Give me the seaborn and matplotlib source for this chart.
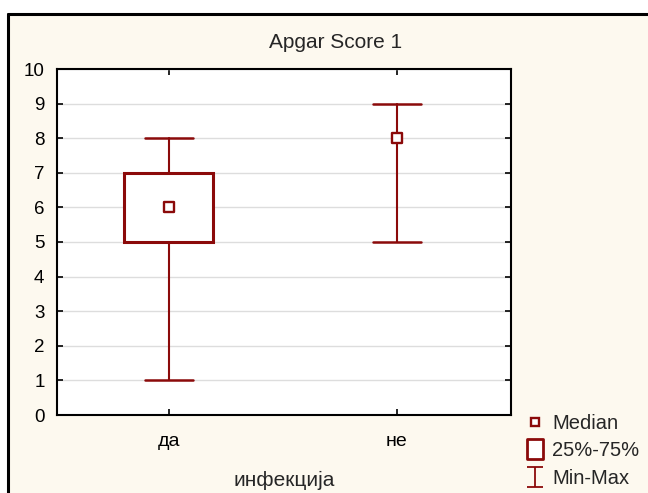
import matplotlib
matplotlib.use('Agg')
import matplotlib.pyplot as plt
import seaborn as sns
from matplotlib.lines import Line2D
from matplotlib.path import Path
from matplotlib.patches import Rectangle

# данные (сводные статистики по группам)
groups = ['да', 'не']
medians = [6, 8]
q1 = [5, 8]
q3 = [7, 8]
mins = [1, 5]
maxs = [8, 9]

red = '#8B0A0A'
cream = '#FDF9EF'

sns.set_style('white')
plt.rcParams['font.family'] = ['Liberation Sans', 'DejaVu Sans']
plt.rcParams['font.size'] = 13

fig = plt.figure(figsize=(6.48, 4.93), dpi=100, facecolor='white')
# кремовый фон с чёрной рамкой сверху и слева
fig.add_artist(Rectangle((8 / 648, 0), 1, 1 - 14 / 493, transform=fig.transFigure,
                         facecolor=cream, edgecolor='none', zorder=-10))
fig.add_artist(Line2D([8 / 648, 1], [1 - 14 / 493] * 2, transform=fig.transFigure, color='black', lw=2.2))
fig.add_artist(Line2D([8 / 648] * 2, [0, 1 - 14 / 493], transform=fig.transFigure, color='black', lw=2.2))

ax = fig.add_axes([57 / 648, 1 - 415 / 493, 454 / 648, 346 / 493])
ax.set_facecolor('white')

stats = []
for i in range(len(groups)):
    stats.append({'med': medians[i], 'q1': q1[i], 'q3': q3[i],
                  'whislo': mins[i], 'whishi': maxs[i], 'fliers': []})
box_w = [0.39 if q3[i] > q1[i] else 0.0 for i in range(len(groups))]
ax.bxp(stats, positions=range(len(groups)), widths=box_w, capwidths=0.21,
       showfliers=False, patch_artist=True,
       boxprops=dict(facecolor='white', edgecolor=red, linewidth=2.2),
       whiskerprops=dict(color=red, linewidth=1.5),
       capprops=dict(color=red, linewidth=1.8),
       medianprops=dict(linewidth=0), manage_ticks=False)

sns.scatterplot(x=list(range(len(groups))), y=medians, marker='s', s=42,
                facecolor='white', edgecolor=red, linewidth=1.7, ax=ax, zorder=5)

ax.set_xlim(-0.49, 1.5)
ax.set_ylim(0, 10)
ax.set_yticks(range(0, 11))
ax.set_xticks(range(len(groups)))
ax.set_xticklabels(groups, fontsize=14)
ax.grid(axis='y', color='#DDDDDD', linewidth=1)
ax.set_axisbelow(True)
for s in ax.spines.values():
    s.set_color('black')
    s.set_linewidth(1.5)
ax.tick_params(direction='in', length=4, width=1.2, top=True, right=True,
               left=True, bottom=True, colors='black')
ax.tick_params(axis='y', labelsize=13.5, pad=9)
ax.tick_params(axis='x', pad=13)
ax.set_xlabel('инфекција', fontsize=15, labelpad=15)
ax.set_ylabel('')
fig.text(336 / 648, 1 - 43 / 493, 'Apgar Score 1', ha='center', va='center', fontsize=15)

ibeam = Path([(-0.76, -1), (0.76, -1), (0, -1), (0, 1), (-0.76, 1), (0.76, 1)],
             [Path.MOVETO, Path.LINETO, Path.MOVETO, Path.LINETO, Path.MOVETO, Path.LINETO])
tall_box = Path([(-0.76, -1), (0.76, -1), (0.76, 1), (-0.76, 1), (-0.76, -1)],
                [Path.MOVETO, Path.LINETO, Path.LINETO, Path.LINETO, Path.CLOSEPOLY])
handles = [
    Line2D([], [], ls='none', marker='s', ms=6, mfc='white', mec=red, mew=1.7),
    Line2D([], [], ls='none', marker=tall_box, ms=14.5, mfc='white', mec=red, mew=2),
    Line2D([], [], ls='none', marker=ibeam, ms=14.5, mfc='none', mec=red, mew=1.3),
]
fig.legend(handles, ['Median', '25%-75%', 'Min-Max'], loc='lower left',
           bbox_to_anchor=(507 / 648, -0.026), frameon=False, fontsize=14.5,
           handlelength=1.0, handletextpad=0.35, labelspacing=0.42)

fig.savefig('out.png', dpi=100, facecolor=fig.get_facecolor())
